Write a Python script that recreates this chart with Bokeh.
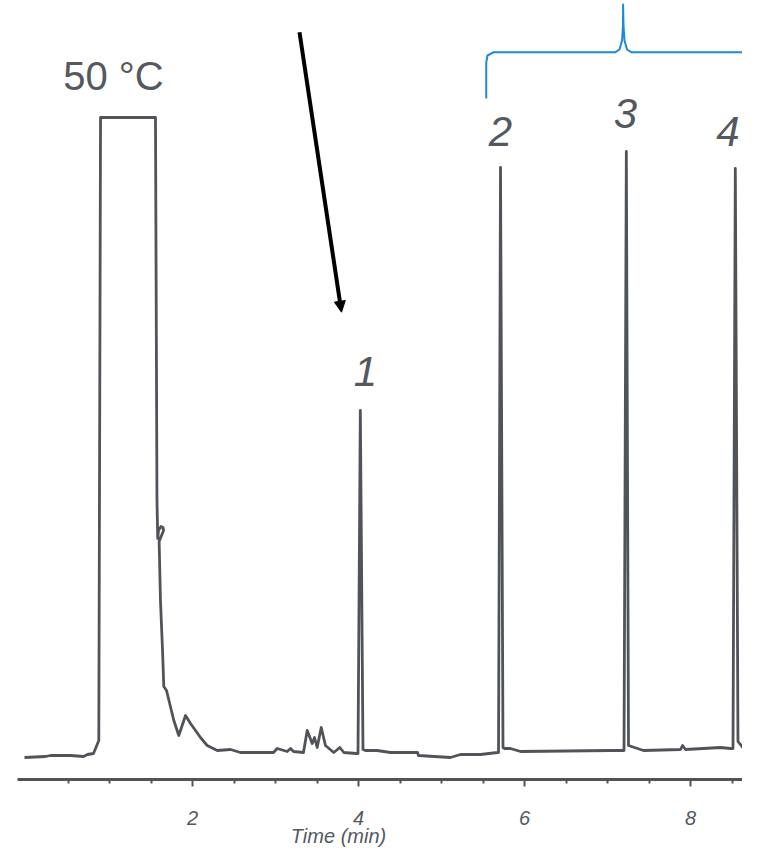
from bokeh.plotting import figure
from bokeh.models import (Range1d, FixedTicker, Label, Arrow, NormalHead)
from bokeh.embed import file_html
from bokeh.resources import INLINE

# ---------------- data ----------------
# retention time (min) and detector signal (arbitrary units)
time_min = [-0.024, 0.229, 0.289, 0.530, 0.687, 0.735, 0.807, 0.871, 0.892, 1.554,
            1.572, 1.581, 1.590, 1.620, 1.645, 1.651, 1.598, 1.614, 1.639, 1.654,
            1.687, 1.775, 1.835, 1.916, 1.976, 2.096, 2.177, 2.298, 2.458, 2.578,
            2.976, 3.020, 3.141, 3.181, 3.217, 3.337, 3.382, 3.442, 3.470, 3.502,
            3.551, 3.602, 3.702, 3.775, 3.823, 3.976, 3.994, 4.022, 4.054, 4.084,
            4.225, 4.386, 4.711, 4.723, 5.108, 5.229, 5.470, 5.675, 5.687, 5.711,
            5.741, 5.759, 5.831, 5.952, 7.036, 7.199, 7.227, 7.253, 7.361, 7.434,
            7.880, 7.904, 7.940, 8.361, 8.482, 8.512, 8.540, 8.572, 8.639, 8.807]
signal = [-2, -1, 0, 0, -1, 1, 2, 15, 638, 638,
          255, 217, 225, 229, 228, 225, 214, 155, 105, 69,
          65, 35, 20, 40, 32, 18, 10, 5, 6, 3,
          3, 7, 4, 7, 4, 3, 25, 12, 18, 8,
          28, 10, 3, 8, 3, 2, 2, 345, 6, 5,
          5, 3, 3, 0, -2, 1, 1, 3, 3, 588,
          8, 7, 7, 4, 5, 5, 604, 10, 7, 5,
          6, 10, 6, 8, 7, 7, 587, 14, 7, 6]
assert len(time_min) == len(signal)

axis_level = -24           # signal level at which the time axis is drawn
major_ticks = [2, 4, 6, 8]
minor_ticks = [0.5, 1, 1.5, 2.5, 3, 3.5, 4.5, 5, 5.5, 6.5, 7, 7.5, 8.5]

peak_labels = ["1", "2", "3", "4"]
peak_label_x = [4.084, 5.711, 7.217, 8.450]
peak_label_y = [384, 624, 642, 624]

# ---------------- annotation geometry (data units) ----------------
brace_x = [5.539, 5.539, 5.554, 5.630, 7.096, 7.145, 7.175, 7.187, 7.188,
           7.193, 7.205, 7.235, 7.286, 8.743, 8.789, 8.807, 8.811]
brace_y = [657, 693, 700, 703.3, 703.3, 706, 715, 730, 751,
           730, 715, 706, 703.3, 703.3, 700, 693, 657]

GRAY = "#505459"
TEXT = "#55595e"
BLUE = "#1b8bd6"

p = figure(width=742, height=848, output_backend="svg", toolbar_location=None,
           x_range=Range1d(-0.3133, 8.6265), y_range=Range1d(-93, 755),
           y_axis_location=None, min_border_left=0, min_border_right=0,
           min_border_top=0, min_border_bottom=0)
p.outline_line_color = None
p.grid.visible = False
p.background_fill_color = "white"
p.border_fill_color = "white"

# chromatogram trace
p.line(time_min, signal, line_color=GRAY, line_width=2.8, line_join="round")

# brace over peaks 2-4
p.line(brace_x, brace_y, line_color=BLUE, line_width=2, line_join="round")

# arrow pointing to peak 1
p.add_layout(Arrow(x_start=3.289, y_start=723.3, x_end=3.795, y_end=443.3,
                   line_color="black", line_width=4,
                   end=NormalHead(size=11, fill_color="black", line_color="black",
                                  line_width=1)))

# texts
p.add_layout(Label(x=1.048, y=680, text="50 °C", text_font="Liberation Sans",
                   text_font_size="40px", text_color=TEXT, text_align="center",
                   text_baseline="alphabetic"))
for t, xx, yy in zip(peak_labels, peak_label_x, peak_label_y):
    p.add_layout(Label(x=xx, y=yy, text=t, text_font="Liberation Sans",
                       text_font_size="42px", text_font_style="italic",
                       text_color=TEXT, text_align="center",
                       text_baseline="alphabetic"))

p.add_layout(Label(x=3.759, y=-80, text="Time (min)", text_font="Liberation Sans",
                   text_font_size="20px", text_font_style="italic",
                   text_color=TEXT, text_align="center", text_baseline="middle"))

# x axis, drawn at a fixed signal level inside the frame
ax = p.xaxis[0]
ax.fixed_location = axis_level
ax.ticker = FixedTicker(ticks=major_ticks, minor_ticks=minor_ticks)
ax.bounds = (-0.108, 8.6265)
ax.axis_line_color = GRAY
ax.axis_line_width = 3
ax.major_tick_line_color = GRAY
ax.major_tick_line_width = 2
ax.minor_tick_line_color = GRAY
ax.minor_tick_line_width = 2
ax.major_tick_in = 0
ax.major_tick_out = 7
ax.minor_tick_in = 0
ax.minor_tick_out = 4
ax.major_label_standoff = 24
ax.major_label_text_font = "Liberation Sans"
ax.major_label_text_font_size = "20px"
ax.major_label_text_font_style = "italic"
ax.major_label_text_color = TEXT

open("out.html", "w").write(file_html(p, INLINE))
